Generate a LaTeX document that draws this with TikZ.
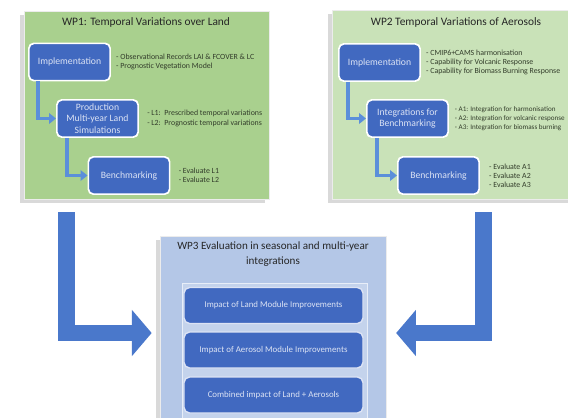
\documentclass[tikz,border=0pt]{standalone}
\usepackage{fontspec}
\setmainfont{Carlito}
\usetikzlibrary{positioning, shadows, arrows.meta, calc}
\definecolor{landgreen}{HTML}{A9D08E}
\definecolor{aerogreen}{HTML}{C9E2B8}
\definecolor{evalblue}{HTML}{B4C7E7}
\definecolor{frameblue}{HTML}{C4D3EC}
\definecolor{boxblue}{HTML}{4169C0}
\definecolor{arrowblue}{HTML}{4A78CB}
\definecolor{elbowblue}{HTML}{5B8FDA}
\definecolor{boxtext}{HTML}{DCE3F4}
\definecolor{notegray}{HTML}{333D2B}
\tikzset{
	paneltitle/.style={font=\fontsize{8.1}{10}\selectfont, text=black!85}
}
\tikzset{
	notetext/.style={font=\fontsize{5.6}{6.5}\selectfont, text=notegray, align=left, anchor=west, inner sep=0pt}
}
\tikzset{
  panel/.style={rectangle, draw=white!85!gray, line width=0.4pt,
    drop shadow={shadow xshift=-3pt, shadow yshift=-3pt, opacity=0.3}},
  stepbox/.style={rectangle, rounded corners=3.5pt, fill=boxblue, draw=white,
    line width=1.2pt, text=boxtext, align=center, inner sep=1pt,
    minimum width=2.03cm, minimum height=0.93cm,
    font=\fontsize{6.9}{8.2}\selectfont},
  resultbox/.style={rectangle, rounded corners=4pt, fill=boxblue, draw=boxtext,
    line width=1pt, text=boxtext, minimum width=4.475cm, minimum height=0.9cm,
    font=\fontsize{6.3}{8}\selectfont},
  elbow/.style={draw=elbowblue, line width=2.8pt, line join=miter,
    -{Triangle[length=5pt, width=7.5pt]}},
  bigarrow/.style={draw=arrowblue, line width=12pt, line join=miter,
    -{Triangle[length=14pt, width=32pt]}}
}

\begin{document}
\begin{tikzpicture}[x=0.025cm, y=-0.025cm]
  \useasboundingbox (0,0) rectangle (568,417);
  % the three work package panels
  \node[panel, fill=landgreen, minimum width=6.125cm, minimum height=4.7cm] (wp1) at (146.5,105) {};
  \node[panel, fill=aerogreen, minimum width=6.25cm, minimum height=4.725cm] (wp2) at (457,104.5) {};
  \node[panel, fill=evalblue, minimum width=5.65cm, minimum height=4.85cm] (wp3) at (273,333) {};
  \node[rectangle, fill=frameblue, draw=white!70!evalblue, line width=0.6pt,
    minimum width=4.625cm, minimum height=3.55cm] (wp3frame) at (274.5,354) {};

  \node[paneltitle] (wp1title) at (146,22) {WP1: Temporal Variations over Land};
  \node[paneltitle] (wp2title) at (456,22) {WP2 Temporal Variations of Aerosols};
  \node[paneltitle, font=\fontsize{7.9}{10.6}\selectfont, align=center] (wp3title) at (273,254.5)
    {WP3 Evaluation in seasonal and multi-year\\integrations};

  % WP1 steps
  \node[stepbox] (landimpl) at (69.5,62) {Implementation};
  \node[stepbox] (landprod) at (97.5,118.5) {Production\\Multi-year Land\\Simulations};
  \node[stepbox] (landbench) at (129,175.5) {Benchmarking};
  \node[notetext] (landimplnotes) at ([xshift=3.5pt]landimpl.east)
    {- Observational Records LAI \& FCOVER \& LC\\- Prognostic Vegetation Model};
  \node[notetext] (landprodnotes) at ([xshift=5.7pt]landprod.east)
    {- L1:\ \ Prescribed temporal variations\\- L2:\ \ Prognostic temporal variations};
  \node[notetext] (landbenchnotes) at ([xshift=5.7pt]landbench.east)
    {- Evaluate L1\\- Evaluate L2};
  \draw[elbow] ([xshift=7pt]landimpl.south west) |- (landprod.west);
  \draw[elbow] ([xshift=7.7pt]landprod.south west) |- (landbench.west);

  % WP2 steps
  \node[stepbox] (aeroimpl) at (379.5,62.5) {Implementation};
  \node[stepbox] (aerointeg) at (407.5,118.5) {Integrations for\\Benchmarking};
  \node[stepbox] (aerobench) at (438.5,175.5) {Benchmarking};
  \node[notetext] (aeroimplnotes) at ([xshift=3.5pt]aeroimpl.east)
    {- CMIP6+CAMS harmonisation\\- Capability for Volcanic Response\\- Capability for Biomass Burning Response};
  % squeezed a little so the longest line stays on the page
  \node[notetext, font=\fontsize{5.05}{6.5}\selectfont] (aerointegnotes) at ([xshift=4pt]aerointeg.east)
    {- A1: Integration for harmonisation\\- A2: Integration for volcanic response\\- A3: Integration for biomass burning};
  \node[notetext] (aerobenchnotes) at ([xshift=6.4pt]aerobench.east)
    {- Evaluate A1\\- Evaluate A2\\- Evaluate A3};
  \draw[elbow] ([xshift=7pt]aeroimpl.south west) |- (aerointeg.west);
  \draw[elbow] ([xshift=7.7pt]aerointeg.south west) |- (aerobench.west);

  % WP3 results
  \node[resultbox] (landimpact) at (273.5,305.5) {Impact of Land Module Improvements};
  \node[resultbox] (aeroimpact) at (273.5,350) {Impact of Aerosol Module Improvements};
  \node[resultbox] (combimpact) at (273.5,395) {Combined impact of Land + Aerosols};

  % big arrows into WP3
  \coordinate (landout) at ([shift={(43,13)}]wp1.south west);
  \coordinate (aeroout) at ([shift={(152,13)}]wp2.south west);
  \draw[bigarrow, shorten >=5.7pt] (landout) |- (wp3.west);
  \draw[bigarrow, shorten >=7pt] (aeroout) |- (wp3.east);
\end{tikzpicture}
\end{document}
